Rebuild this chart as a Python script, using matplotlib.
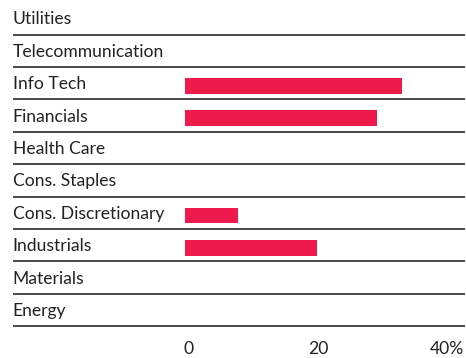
import matplotlib
matplotlib.use('Agg')
import matplotlib.pyplot as plt

# sector weights, top to bottom
sectors = ['Utilities', 'Telecommunication', 'Info Tech', 'Financials', 'Health Care',
           'Cons. Staples', 'Cons. Discretionary', 'Industrials', 'Materials', 'Energy']
weights = [0, 0, 33.7, 29.8, 0, 0, 8.2, 20.5, 0, 0]
ticks = [0, 20, 40]
tick_labels = ['0', '20', '40%']

plt.rcParams['font.family'] = ['Lato', 'DejaVu Sans']

fig = plt.figure(figsize=(4.66, 3.58), dpi=100)
ax = fig.add_axes([0, 0, 1, 1])
ax.set_xlim(-28.68, 43.57)
ax.set_ylim(10.48, -0.565)
ax.axis('off')

pos = list(range(len(sectors)))
ax.barh([p + 0.08 for p in pos], weights, height=0.48, color='#ee1a4b')

for p, name in zip(pos, sectors):
    ax.text(-26.7, p + 0.03, name, ha='left', va='center', fontsize=12.6, color='#222222')
    ax.plot([-26.7, 43.4], [p + 0.5, p + 0.5], color='#3a3a3a', lw=1.3,
            solid_capstyle='butt')

for t, lab in zip(ticks, tick_labels):
    ax.text(t + 0.6, 10.19, lab, ha='center', va='center', fontsize=12.6, color='#222222')

fig.savefig('out.png', dpi=100)
